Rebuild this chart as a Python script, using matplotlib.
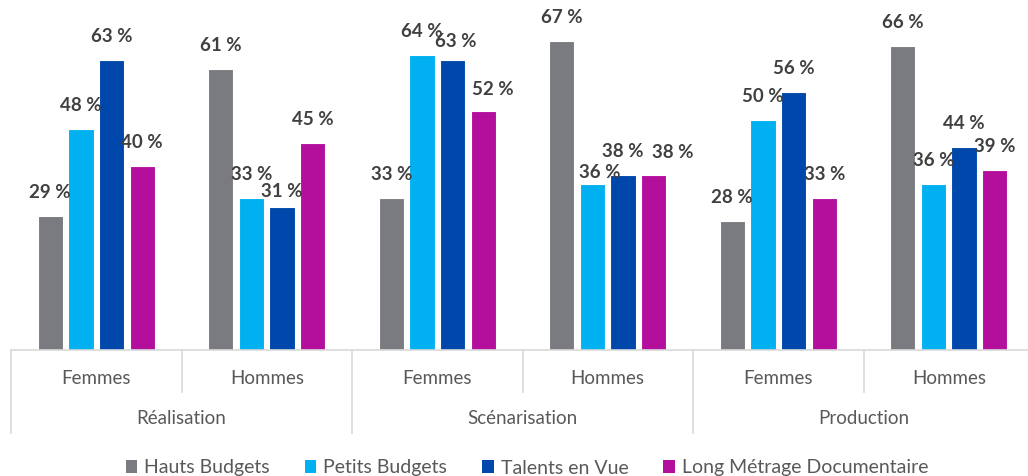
import numpy as np
from matplotlib import pyplot as plt
from matplotlib.patches import Patch

# data
groups = ['Réalisation', 'Scénarisation', 'Production']
genders = ['Femmes', 'Hommes']
series = ['Hauts Budgets', 'Petits Budgets', 'Talents en Vue', 'Long Métrage Documentaire']
hauts_budgets = [29, 61, 33, 67, 28, 66]
petits_budgets = [48, 33, 64, 36, 50, 36]
talents_en_vue = [63, 31, 63, 38, 56, 44]
long_metrage = [40, 45, 52, 38, 33, 39]

colors = ['#797B80', '#00B0F0', '#0047AB', '#B40F9C']
FONT = 'Lato'
GRID = '#D9D9D9'
LABEL_GAP = 23.5  # px between bar top and label centre
# (series, category) -> (dx px, gap px) for labels that were nudged by hand
label_nudge = {(2, 1): (0, 16), (2, 2): (3, 18), (3, 2): (10, 21),
               (1, 3): (7, 12), (3, 3): (19, 22)}


def make_chart():
    plt.rcParams['font.family'] = [FONT, 'DejaVu Sans']
    fig = plt.figure(figsize=(10.28, 4.76), dpi=100)
    W, H = 1028, 476
    ax = fig.add_axes([11 / W, (H - 350) / H, 1023 / W, 350 / H])

    values = [hauts_budgets, petits_budgets, talents_en_vue, long_metrage]
    x = np.arange(len(hauts_budgets))
    pitch = 0.18
    width = 0.148
    for i, (vals, col) in enumerate(zip(values, colors)):
        pos = x + (i - 1.5) * pitch
        bars = ax.bar(pos, vals, width, color=col, edgecolor='white', linewidth=0.8)
        for k, (b, v) in enumerate(zip(bars, vals)):
            dx, gap = label_nudge.get((i, k), (0, LABEL_GAP))
            ax.annotate('{} %'.format(v), (b.get_x() + b.get_width() / 2, v),
                        xytext=(dx * 0.72, gap * 0.72), textcoords='offset points',
                        ha='center', va='center', fontsize=13.5, fontweight='bold',
                        color='#404040')

    ax.set_xlim(-0.5, len(x) - 0.5)
    ax.set_ylim(0, 76.0)
    ax.set_xticks([])
    ax.set_yticks([])
    for s in ax.spines.values():
        s.set_visible(False)

    # multi-level category axis drawn by hand
    trans = ax.get_xaxis_transform()
    px = 1 / 350  # one pixel in axes-y units
    ax.plot([-0.5, len(x) - 0.5], [0, 0], color=GRID, lw=1.2, transform=trans, clip_on=False)
    for k in range(len(x)):
        ax.text(k, -28 * px, genders[k % 2], transform=trans, ha='center', va='center',
                fontsize=13.5, color='#595959')
        if k % 2 == 1:
            ax.plot([k - 0.5, k - 0.5], [0, -42 * px], color=GRID, lw=1.2,
                    transform=trans, clip_on=False)
    for g, name in enumerate(groups):
        left = 2 * g - 0.5
        ax.plot([left, left], [0, -83 * px], color=GRID, lw=1.2,
                transform=trans, clip_on=False)
        ax.text(left + 1, -69 * px, name, transform=trans, ha='center', va='center',
                fontsize=13.5, color='#595959')

    handles = [Patch(facecolor=c, edgecolor='none') for c in colors]
    fig.legend(handles, series, loc='center', bbox_to_anchor=(527 / W, (H - 468) / H),
               ncol=4, frameon=False, fontsize=14, labelcolor='#595959',
               handlelength=0.6, handleheight=0.6, handletextpad=0.35, columnspacing=1.8)

    fig.savefig('out.png', dpi=100)


if __name__ == '__main__':
    make_chart()
